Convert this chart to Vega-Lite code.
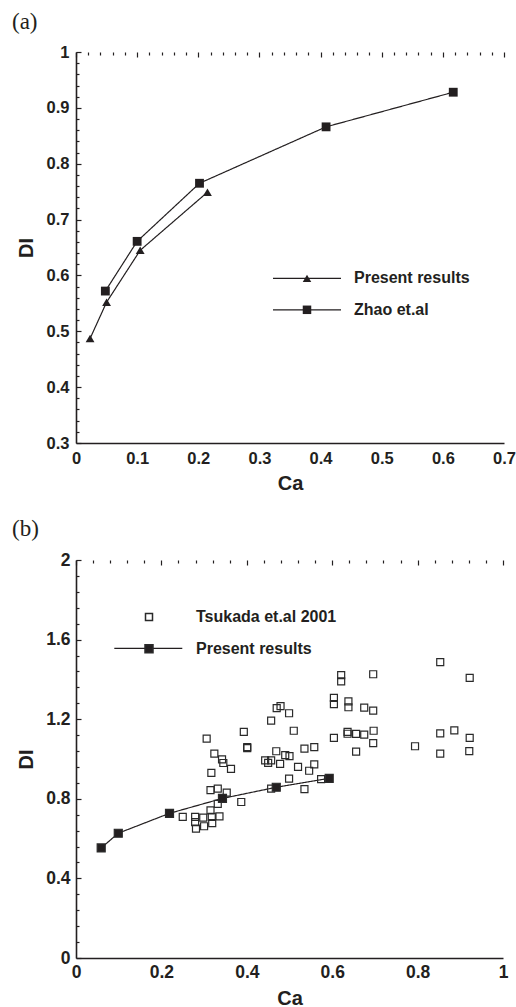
{
  "$schema": "https://vega.github.io/schema/vega-lite/v6.json",
  "autosize": {"type": "pad"},
  "padding": {"left": 12, "top": 11, "right": 4, "bottom": 0},
  "spacing": 117,
  "bounds": "flush",
  "datasets": {
    "a": [
      {"series": "Present results", "Ca": 0.023, "DI": 0.487},
      {"series": "Present results", "Ca": 0.05, "DI": 0.552},
      {"series": "Present results", "Ca": 0.105, "DI": 0.645},
      {"series": "Present results", "Ca": 0.215, "DI": 0.749},
      {"series": "Zhao et.al", "Ca": 0.048, "DI": 0.572},
      {"series": "Zhao et.al", "Ca": 0.1, "DI": 0.661},
      {"series": "Zhao et.al", "Ca": 0.202, "DI": 0.765},
      {"series": "Zhao et.al", "Ca": 0.409, "DI": 0.866},
      {"series": "Zhao et.al", "Ca": 0.617, "DI": 0.928}
    ],
    "b": [
      {"series": "Tsukada et.al 2001", "Ca": 0.853, "DI": 1.487},
      {"series": "Tsukada et.al 2001", "Ca": 0.696, "DI": 1.426},
      {"series": "Tsukada et.al 2001", "Ca": 0.621, "DI": 1.421},
      {"series": "Tsukada et.al 2001", "Ca": 0.621, "DI": 1.39},
      {"series": "Tsukada et.al 2001", "Ca": 0.922, "DI": 1.408},
      {"series": "Tsukada et.al 2001", "Ca": 0.604, "DI": 1.307},
      {"series": "Tsukada et.al 2001", "Ca": 0.604, "DI": 1.276},
      {"series": "Tsukada et.al 2001", "Ca": 0.638, "DI": 1.29},
      {"series": "Tsukada et.al 2001", "Ca": 0.638, "DI": 1.26},
      {"series": "Tsukada et.al 2001", "Ca": 0.675, "DI": 1.258},
      {"series": "Tsukada et.al 2001", "Ca": 0.696, "DI": 1.243},
      {"series": "Tsukada et.al 2001", "Ca": 0.47, "DI": 1.256},
      {"series": "Tsukada et.al 2001", "Ca": 0.479, "DI": 1.266},
      {"series": "Tsukada et.al 2001", "Ca": 0.499, "DI": 1.23},
      {"series": "Tsukada et.al 2001", "Ca": 0.457, "DI": 1.193},
      {"series": "Tsukada et.al 2001", "Ca": 0.306, "DI": 1.102},
      {"series": "Tsukada et.al 2001", "Ca": 0.393, "DI": 1.136},
      {"series": "Tsukada et.al 2001", "Ca": 0.401, "DI": 1.06},
      {"series": "Tsukada et.al 2001", "Ca": 0.401, "DI": 1.055},
      {"series": "Tsukada et.al 2001", "Ca": 0.324, "DI": 1.027},
      {"series": "Tsukada et.al 2001", "Ca": 0.342, "DI": 0.998},
      {"series": "Tsukada et.al 2001", "Ca": 0.345, "DI": 0.98},
      {"series": "Tsukada et.al 2001", "Ca": 0.363, "DI": 0.95},
      {"series": "Tsukada et.al 2001", "Ca": 0.317, "DI": 0.93},
      {"series": "Tsukada et.al 2001", "Ca": 0.51, "DI": 1.142},
      {"series": "Tsukada et.al 2001", "Ca": 0.443, "DI": 0.993},
      {"series": "Tsukada et.al 2001", "Ca": 0.45, "DI": 0.981},
      {"series": "Tsukada et.al 2001", "Ca": 0.457, "DI": 0.993},
      {"series": "Tsukada et.al 2001", "Ca": 0.469, "DI": 1.039},
      {"series": "Tsukada et.al 2001", "Ca": 0.478, "DI": 0.975},
      {"series": "Tsukada et.al 2001", "Ca": 0.49, "DI": 1.019},
      {"series": "Tsukada et.al 2001", "Ca": 0.5, "DI": 1.014},
      {"series": "Tsukada et.al 2001", "Ca": 0.535, "DI": 1.052},
      {"series": "Tsukada et.al 2001", "Ca": 0.558, "DI": 1.06},
      {"series": "Tsukada et.al 2001", "Ca": 0.52, "DI": 0.96},
      {"series": "Tsukada et.al 2001", "Ca": 0.546, "DI": 0.941},
      {"series": "Tsukada et.al 2001", "Ca": 0.558, "DI": 0.973},
      {"series": "Tsukada et.al 2001", "Ca": 0.499, "DI": 0.901},
      {"series": "Tsukada et.al 2001", "Ca": 0.574, "DI": 0.899},
      {"series": "Tsukada et.al 2001", "Ca": 0.535, "DI": 0.849},
      {"series": "Tsukada et.al 2001", "Ca": 0.457, "DI": 0.851},
      {"series": "Tsukada et.al 2001", "Ca": 0.604, "DI": 1.106},
      {"series": "Tsukada et.al 2001", "Ca": 0.636, "DI": 1.136},
      {"series": "Tsukada et.al 2001", "Ca": 0.636, "DI": 1.127},
      {"series": "Tsukada et.al 2001", "Ca": 0.656, "DI": 1.126},
      {"series": "Tsukada et.al 2001", "Ca": 0.675, "DI": 1.122},
      {"series": "Tsukada et.al 2001", "Ca": 0.697, "DI": 1.142},
      {"series": "Tsukada et.al 2001", "Ca": 0.696, "DI": 1.08},
      {"series": "Tsukada et.al 2001", "Ca": 0.656, "DI": 1.037},
      {"series": "Tsukada et.al 2001", "Ca": 0.794, "DI": 1.064},
      {"series": "Tsukada et.al 2001", "Ca": 0.853, "DI": 1.129},
      {"series": "Tsukada et.al 2001", "Ca": 0.886, "DI": 1.144},
      {"series": "Tsukada et.al 2001", "Ca": 0.922, "DI": 1.106},
      {"series": "Tsukada et.al 2001", "Ca": 0.853, "DI": 1.027},
      {"series": "Tsukada et.al 2001", "Ca": 0.921, "DI": 1.04},
      {"series": "Tsukada et.al 2001", "Ca": 0.315, "DI": 0.844},
      {"series": "Tsukada et.al 2001", "Ca": 0.332, "DI": 0.851},
      {"series": "Tsukada et.al 2001", "Ca": 0.353, "DI": 0.831},
      {"series": "Tsukada et.al 2001", "Ca": 0.332, "DI": 0.775},
      {"series": "Tsukada et.al 2001", "Ca": 0.387, "DI": 0.784},
      {"series": "Tsukada et.al 2001", "Ca": 0.315, "DI": 0.742},
      {"series": "Tsukada et.al 2001", "Ca": 0.318, "DI": 0.709},
      {"series": "Tsukada et.al 2001", "Ca": 0.336, "DI": 0.712},
      {"series": "Tsukada et.al 2001", "Ca": 0.25, "DI": 0.709},
      {"series": "Tsukada et.al 2001", "Ca": 0.279, "DI": 0.709},
      {"series": "Tsukada et.al 2001", "Ca": 0.279, "DI": 0.683},
      {"series": "Tsukada et.al 2001", "Ca": 0.281, "DI": 0.65},
      {"series": "Tsukada et.al 2001", "Ca": 0.298, "DI": 0.705},
      {"series": "Tsukada et.al 2001", "Ca": 0.3, "DI": 0.662},
      {"series": "Tsukada et.al 2001", "Ca": 0.319, "DI": 0.678},
      {"series": "Present results", "Ca": 0.059, "DI": 0.553},
      {"series": "Present results", "Ca": 0.099, "DI": 0.627},
      {"series": "Present results", "Ca": 0.219, "DI": 0.727},
      {"series": "Present results", "Ca": 0.343, "DI": 0.802},
      {"series": "Present results", "Ca": 0.469, "DI": 0.858},
      {"series": "Present results", "Ca": 0.593, "DI": 0.903}
    ]
  },
  "vconcat": [
    {
      "width": 428,
      "height": 391,
      "title": {"text": "(a)", "anchor": "start", "frame": "group", "dx": -64, "offset": -8, "baseline": "alphabetic", "font": "Liberation Serif", "fontSize": 23, "fontWeight": "normal", "color": "#231f20"},
      "data": {"name": "a"},
      "layer": [
        {
          "mark": {"type": "line", "color": "#231f20", "strokeWidth": 1.2},
          "encoding": {
            "x": {"field": "Ca", "type": "quantitative", "scale": {"domain": [0, 0.7], "nice": false, "zero": false},
              "axis": {"values": [0, 0.02, 0.04, 0.06, 0.08, 0.1, 0.12, 0.14, 0.16, 0.18, 0.2, 0.22, 0.24, 0.26, 0.28, 0.3, 0.32, 0.34, 0.36, 0.38, 0.4, 0.42, 0.44, 0.46, 0.48, 0.5, 0.52, 0.54, 0.56, 0.58, 0.6, 0.62, 0.64, 0.66, 0.68, 0.7],
                "tickCount": 200,
                "labelExpr": "abs(datum.value*10 - round(datum.value*10)) < 1e-6 ? format(datum.value, '.1~f') : ''",
                "labelOverlap": false, "labelFlush": false,
                "ticks": false, "grid": true,
                "gridDash": {"condition": {"test": "abs(datum.value*10 - round(datum.value*10)) < 1e-6", "value": [5, 3000]}, "value": [3, 3000]},
                "labelPadding": 7.8, "labelFontSize": 16.5, "title": "Ca", "titleY": 46, "titleBaseline": "alphabetic"}},
            "y": {"field": "DI", "type": "quantitative", "scale": {"domain": [0.3, 1], "nice": false, "zero": false},
              "axis": {"values": [0.3, 0.32, 0.34, 0.36, 0.38, 0.4, 0.42, 0.44, 0.46, 0.48, 0.5, 0.52, 0.54, 0.56, 0.58, 0.6, 0.62, 0.64, 0.66, 0.68, 0.7, 0.72, 0.74, 0.76, 0.78, 0.8, 0.82, 0.84, 0.86, 0.88, 0.9, 0.92, 0.94, 0.96, 0.98, 1],
                "tickCount": 200,
                "labelExpr": "abs(datum.value*10 - round(datum.value*10)) < 1e-6 ? format(datum.value, '.1~f') : ''",
                "labelOverlap": false, "labelFlush": false,
                "ticks": false, "grid": true,
                "gridDash": {"condition": {"test": "abs(datum.value*10 - round(datum.value*10)) < 1e-6", "value": [5, 3000]}, "value": [3, 3000]},
                "labelPadding": 7, "labelFontSize": 16.5, "title": "DI", "titleX": -44, "titleBaseline": "alphabetic"}},
            "strokeDash": {"field": "series", "type": "nominal",
              "scale": {"range": [[1, 0], [1, 0]]},
              "legend": {"orient": "none", "legendX": 223, "legendY": 218.4, "rowPadding": 15.4, "symbolType": "M-8,0H8", "symbolSize": 72.25, "symbolStrokeWidth": 1.2, "symbolStrokeColor": "#231f20", "symbolFillColor": "transparent", "labelExpr": "' '"}}
          }
        },
        {
          "mark": {"type": "point", "filled": true, "color": "#231f20", "opacity": 1, "size": 78},
          "encoding": {
            "x": {"field": "Ca", "type": "quantitative"},
            "y": {"field": "DI", "type": "quantitative"},
            "shape": {"field": "series", "type": "nominal",
              "scale": {"domain": ["Present results", "Zhao et.al"], "range": ["triangle-up", "square"]},
              "legend": {"orient": "none", "legendX": 223, "legendY": 218.4, "rowPadding": 15.4, "labelOffset": 39, "symbolSize": 72.25, "symbolFillColor": "#231f20"}}
          }
        }
      ]
    },
    {
      "width": 427,
      "height": 398,
      "title": {"text": "(b)", "anchor": "start", "frame": "group", "dx": -64, "offset": -8, "baseline": "alphabetic", "font": "Liberation Serif", "fontSize": 23, "fontWeight": "normal", "color": "#231f20"},
      "data": {"name": "b"},
      "layer": [
        {
          "transform": [{"filter": "datum.series === 'Present results'"}],
          "mark": {"type": "line", "color": "#231f20", "strokeWidth": 1.2},
          "encoding": {
            "x": {"field": "Ca", "type": "quantitative", "scale": {"domain": [0, 1], "nice": false, "zero": false},
              "axis": {"values": [0, 0.04, 0.08, 0.12, 0.16, 0.2, 0.24, 0.28, 0.32, 0.36, 0.4, 0.44, 0.48, 0.52, 0.56, 0.6, 0.64, 0.68, 0.72, 0.76, 0.8, 0.84, 0.88, 0.92, 0.96, 1],
                "tickCount": 200,
                "labelExpr": "abs(datum.value*5 - round(datum.value*5)) < 1e-6 ? format(datum.value, '.1~f') : ''",
                "labelOverlap": false, "labelFlush": false,
                "ticks": false, "grid": true,
                "gridDash": {"condition": {"test": "abs(datum.value*5 - round(datum.value*5)) < 1e-6", "value": [5, 3000]}, "value": [3, 3000]},
                "labelPadding": 5.4, "labelFontSize": 17.5, "title": "Ca", "titleY": 46, "titleBaseline": "alphabetic"}},
            "y": {"field": "DI", "type": "quantitative", "scale": {"domain": [0, 2], "nice": false, "zero": false},
              "axis": {"values": [0, 0.08, 0.16, 0.24, 0.32, 0.4, 0.48, 0.56, 0.64, 0.72, 0.8, 0.88, 0.96, 1.04, 1.12, 1.2, 1.28, 1.36, 1.44, 1.52, 1.6, 1.68, 1.76, 1.84, 1.92, 2],
                "tickCount": 200,
                "labelExpr": "abs(datum.value*2.5 - round(datum.value*2.5)) < 1e-6 ? format(datum.value, '.1~f') : ''",
                "labelOverlap": false, "labelFlush": false,
                "ticks": false, "grid": true,
                "gridDash": {"condition": {"test": "abs(datum.value*2.5 - round(datum.value*2.5)) < 1e-6", "value": [5, 3000]}, "value": [3, 3000]},
                "labelPadding": 6, "labelFontSize": 17.5, "title": "DI", "titleX": -44, "titleBaseline": "alphabetic"}},
            "strokeDash": {"field": "series", "type": "nominal",
              "scale": {"range": [[1, 0]]},
              "legend": {"orient": "none", "legendX": 37.3, "legendY": 53.4, "symbolType": "stroke", "symbolSize": 4624, "symbolStrokeWidth": 1.2, "symbolStrokeColor": "#231f20", "labelExpr": "''"}}
          }
        },
        {
          "mark": {"type": "point", "filled": true, "stroke": "#2a2a2a", "strokeWidth": 1.2, "opacity": 1},
          "encoding": {
            "x": {"field": "Ca", "type": "quantitative"},
            "y": {"field": "DI", "type": "quantitative"},
            "shape": {"field": "series", "type": "nominal",
              "scale": {"domain": ["Tsukada et.al 2001", "Present results"], "range": ["square", "square"]},
              "legend": {"orient": "none", "legendX": 65, "legendY": 49, "rowPadding": 15.7, "labelOffset": 39}},
            "fill": {"field": "series", "type": "nominal",
              "scale": {"domain": ["Tsukada et.al 2001", "Present results"], "range": ["transparent", "#231f20"]},
              "legend": {"orient": "none", "legendX": 65, "legendY": 49, "rowPadding": 15.7, "labelOffset": 39}},
            "size": {"field": "series", "type": "nominal",
              "scale": {"domain": ["Tsukada et.al 2001", "Present results"], "range": [49, 64]},
              "legend": {"orient": "none", "legendX": 65, "legendY": 49, "rowPadding": 15.7, "labelOffset": 39}}
          }
        }
      ]
    }
  ],
  "resolve": {
    "scale": {"shape": "independent", "fill": "independent", "size": "independent", "strokeDash": "independent", "x": "independent", "y": "independent"},
    "legend": {"shape": "independent", "fill": "independent", "size": "independent", "strokeDash": "independent"}
  },
  "config": {
    "view": {"stroke": null},
    "axis": {
      "labelFont": "Liberation Sans", "labelFontWeight": "bold", "labelColor": "#231f20",
      "labelFlush": false, "labelOverlap": false,
      "titleFont": "Liberation Sans", "titleFontWeight": "bold", "titleFontSize": 20, "titleColor": "#231f20",
      "domainColor": "#231f20", "domainWidth": 1.6,
      "gridColor": "#231f20", "gridWidth": 1.2, "gridOpacity": 1
    },
    "legend": {
      "title": null, "padding": 0,
      "labelFont": "Liberation Sans", "labelFontWeight": "bold", "labelFontSize": 16, "labelColor": "#231f20",
      "symbolSize": 64
    }
  }
}
